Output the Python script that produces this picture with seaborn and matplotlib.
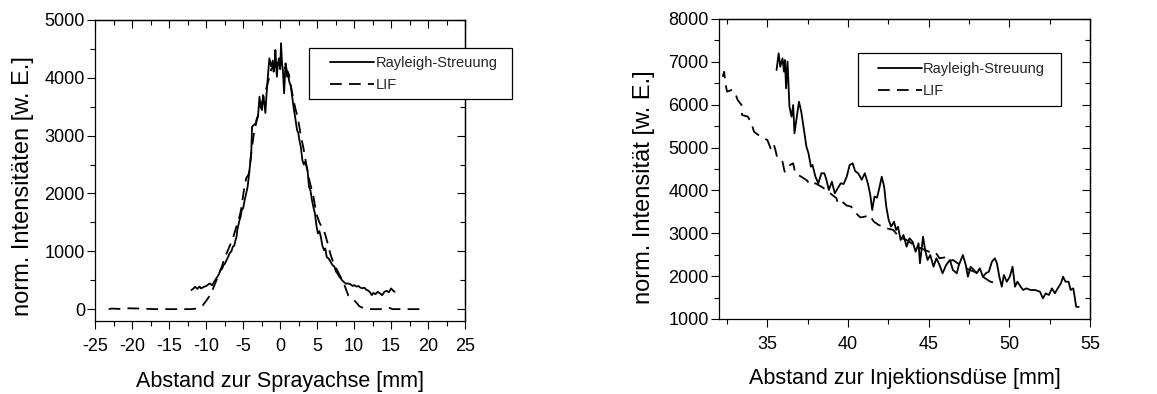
import matplotlib
matplotlib.use('Agg')
import matplotlib.pyplot as plt
import seaborn as sns
import pandas as pd
from matplotlib.ticker import MultipleLocator
from matplotlib.patches import Rectangle
from matplotlib.lines import Line2D

# ---------------- data: left panel (Abstand zur Sprayachse) ----------------
ray_left_x = [-12.0, -11.7, -11.5, -11.2, -10.9, -10.7, -10.3, -10.0, -9.7, -9.5, -9.2, -8.9,
              -8.5, -8.3, -8.07, -7.85, -7.67, -7.45, -7.25, -7.05, -6.85, -6.6, -6.4, -6.2,
              -6.04, -5.9, -5.8, -5.65, -5.5, -5.35, -5.2, -5.0, -4.8, -4.6, -4.4, -4.2, -4.0,
              -3.9, -3.8, -3.6, -3.3, -3.15, -3.0, -2.8, -2.65, -2.47, -2.3, -2.2, -2.0, -1.85,
              -1.7, -1.46, -1.3, -1.2, -1.0, -0.89, -0.75, -0.65, -0.45, -0.3, -0.16, 0.0, 0.12,
              0.25, 0.37, 0.53, 0.73, 0.85, 0.97, 1.06, 1.2, 1.46, 1.6, 1.87, 2.05, 2.28, 2.45,
              2.6, 2.8, 3.0, 3.2, 3.4, 3.7, 3.9, 4.1, 4.3, 4.5, 4.7, 4.9, 5.1, 5.3, 5.5, 5.7,
              5.93, 6.1, 6.3, 6.5, 6.7, 6.9, 7.1, 7.35, 7.55, 7.75, 8.0, 8.2, 8.36, 8.6, 8.9,
              9.2, 9.5, 9.8, 10.0, 10.3, 10.6, 10.8, 11.1, 11.4, 11.6, 11.9, 12.1, 12.4, 12.6,
              12.9, 13.2, 13.5, 13.8, 14.1, 14.4, 14.7, 15.0, 15.3, 15.5]
ray_left_y = [329, 360, 387, 350, 390, 358, 387, 400, 430, 444, 410, 480,
              559, 600, 675, 700, 761, 790, 848, 900, 963, 1000, 1079, 1100,
              1194, 1250, 1367, 1450, 1540, 1600, 1713, 1750, 1886, 2000, 2116, 2347, 2578,
              2750, 3154, 3180, 3213, 3300, 3327, 3673, 3500, 3443, 3700, 3616, 3391, 3700,
              3962, 4337, 4250, 4192, 4300, 4105, 4200, 4481, 4019, 4250, 4337, 4150, 4596,
              4250, 4135, 3732, 4250, 4150, 4019, 4100, 3950, 3846, 3700, 3443, 3300, 3097, 3050,
              2924, 2800, 2578, 2500, 2550, 2405, 2116, 2050, 1886, 1760, 1656, 1450, 1310, 1350, 1252, 1100,
              1021, 1050, 900, 880, 848, 800, 760, 732, 650, 617, 560, 530, 502, 470, 440,
              444, 430, 400, 416, 390, 400, 375, 360, 370, 340, 320, 300, 242, 280,
              260, 300, 270, 242, 300, 317, 290, 358, 317, 300]

lif_left_x = [-23.2, -22.8, -21.0, -20.5, -19.0, -17.0, -15.0, -13.0, -12.0, -11.3, -10.9, -10.5,
              -10.1, -9.7, -9.3, -9.0, -8.7, -8.3, -7.9, -7.6, -7.25, -6.8, -6.4, -6.1, -5.8,
              -5.5, -5.3, -4.9, -4.6, -4.2, -4.0, -3.6, -3.2, -2.8, -2.4, -2.0, -1.6, -1.2, -0.8,
              -0.4, 0.0, 0.4, 0.8, 1.2, 1.6, 2.0, 2.4, 2.8, 3.2, 3.6, 4.0, 4.5, 4.9, 5.3, 5.7,
              6.05, 6.4, 6.8, 7.2, 7.8, 8.2, 8.6, 9.2, 9.6, 10.0, 10.4, 10.7, 11.3, 12.0, 14.0,
              14.8, 15.2, 17.0, 19.6]
lif_left_y = [0, 10, 0, 15, 10, 0, 0, 0, 0, 10, 40, 60,
              127, 200, 271, 380, 473, 600, 732, 850, 963, 1100, 1223, 1350, 1483,
              1600, 1713, 2059, 2261, 2347, 2600, 3000, 3250, 3450, 3600, 3750, 3950, 4150, 4200,
              4250, 4250, 4200, 4150, 4050, 3750, 3500, 3300, 3000, 2750, 2450, 2200, 1943, 1650, 1500, 1400,
              1309, 1150, 950, 800, 650, 550, 450, 240, 200, 155, 100, 50, 17, 0, 0,
              20, 0, 0, 0]

# ---------------- data: right panel (Abstand zur Injektionsdüse) ----------------
ray_right_x = [35.57, 35.7, 35.8, 35.94, 36.03, 36.09, 36.16, 36.25, 36.37, 36.5, 36.6, 36.68,
               36.81, 36.96, 37.1, 37.24, 37.42, 37.55, 37.7, 37.8, 37.98, 38.16, 38.35, 38.53,
               38.66, 38.81, 39.0, 39.18, 39.36, 39.55, 39.73, 39.92, 40.1, 40.29, 40.44, 40.63,
               40.85, 41.04, 41.23, 41.38, 41.5, 41.64, 41.8, 41.96, 42.09, 42.24, 42.37, 42.52,
               42.67, 42.85, 42.98, 43.1, 43.26, 43.44, 43.63, 43.81, 44.0, 44.19, 44.37, 44.46,
               44.65, 44.78, 44.93, 45.1, 45.3, 45.48, 45.67, 45.86, 46.08, 46.32, 46.5, 46.74,
               46.87, 47.12, 47.3, 47.43, 47.6, 47.8, 47.98, 48.17, 48.36, 48.54, 48.73, 48.92,
               49.1, 49.23, 49.38, 49.53, 49.66, 49.84, 50.03, 50.2, 50.35, 50.5, 50.7, 50.86,
               51.05, 51.32, 51.6, 51.9, 52.08, 52.26, 52.45, 52.64, 52.82, 53.0, 53.2, 53.33,
               53.48, 53.67, 53.8, 53.96, 54.05, 54.14, 54.3]
ray_right_y = [6809, 7199, 6886, 7082, 6770, 7043, 6382, 7005, 5953, 5720, 5993, 5332,
               5681, 6070, 5837, 5487, 5020, 4866, 4554, 4593, 4320, 4166, 4400, 4400,
               4250, 4010, 4203, 3932, 4050, 4166, 4150, 4320, 4593, 4632, 4450, 4400,
               4250, 4400, 4166, 3893, 3543, 3855, 3830, 4087, 4320, 4087, 3621, 3310,
               3154, 3271, 3076, 3150, 2843, 2960, 2687, 2882, 2805, 2570, 2766, 2300,
               2920, 2610, 2377, 2493, 2220, 2416, 2260, 2066, 2260, 2377, 2143, 2066,
               2260, 2493, 2260, 1987, 2220, 2143, 2066, 2182, 1987, 2066, 2104, 2337,
               2416, 2300, 1987, 1753, 2026, 1870, 1987, 2220, 1753, 1870, 1753, 1676,
               1715, 1676, 1676, 1637, 1482, 1598, 1560, 1715, 1598, 1715, 1833, 1987,
               1870, 1870, 1676, 1715, 1521, 1287, 1280]

lif_right_x = [32.23, 32.32, 32.4, 32.5, 32.78, 32.97, 33.16, 33.4, 33.43, 33.8, 34.05, 34.17,
               34.3, 34.6, 35.0, 35.2, 35.38, 35.5, 35.62, 35.94, 36.07, 36.31, 36.4, 36.6,
               36.73, 37.1, 37.42, 37.7, 37.98, 38.35, 38.7, 39.0, 39.28, 39.37, 39.6, 39.9,
               40.2, 40.3, 40.76, 41.04, 41.32, 41.6, 41.9, 42.2, 42.4, 42.8, 43.2, 43.6, 44.0,
               44.5, 45.02, 45.4, 45.67, 46.04, 46.2, 46.5, 47.0, 47.5, 48.0, 48.5, 48.82,
               49.19, 49.4]
lif_right_y = [6653, 6770, 6499, 6304, 6343, 6304, 6110, 5993, 5760, 5720, 5526, 5370,
               5332, 5253, 5176, 4983, 5099, 4943, 4749, 4670, 4437, 4516, 4593, 4632,
               4400, 4320, 4243, 4126, 4166, 4087, 4000, 3900, 3820, 3700, 3750, 3650,
               3621, 3543, 3370, 3387, 3426, 3271, 3193, 3154, 3116, 3077, 2900, 2850, 2750,
               2650, 2570, 2570, 2416, 2440, 2337, 2377, 2250, 2150, 2080, 1950, 1871,
               1833, 1850]

labels = ["Rayleigh-Streuung", "LIF"]
xlabels = ["Abstand zur Sprayachse [mm]", "Abstand zur Injektionsdüse [mm]"]
ylabels = ["norm. Intensitäten [w. E.]", "norm. Intensität [w. E.]"]

# ---------------- style ----------------
sns.set_style('white')
plt.rcParams['font.family'] = ['Liberation Sans', 'DejaVu Sans']
plt.rcParams['axes.unicode_minus'] = False
plt.rcParams['axes.linewidth'] = 0.9
plt.rcParams['axes.edgecolor'] = 'black'

fig = plt.figure(figsize=(11.57, 3.94), dpi=100)
ax1 = fig.add_axes([0.0824, 0.1853, 0.3195, 0.7640])
ax2 = fig.add_axes([0.6214, 0.1904, 0.3207, 0.7614])

LW = 1.3
DASH = (6.5, 4)


def draw(ax, rx, ry, lx, ly):
    sns.lineplot(x=rx, y=ry, ax=ax, color='black', lw=LW, sort=False, estimator=None)
    sns.lineplot(x=lx, y=ly, ax=ax, color='black', lw=LW, sort=False, estimator=None)
    ax.lines[-1].set_dashes(DASH)


def style(ax, xmaj, xmin, ymaj, ymin):
    for axis, maj, mnr in ((ax.xaxis, xmaj, xmin), (ax.yaxis, ymaj, ymin)):
        axis.set_major_locator(MultipleLocator(maj))
        axis.set_minor_locator(MultipleLocator(mnr))
    ax.tick_params(which='both', direction='out', top=False, right=False,
                   bottom=True, left=True, width=0.8, color='black',
                   labelsize=13, labelcolor='black')
    ax.tick_params(which='major', length=6)
    ax.tick_params(which='minor', length=3.3)
    ax.tick_params(axis='x', which='major', pad=6)
    ax.tick_params(axis='y', which='major', pad=1.5)
    for s in ax.spines.values():
        s.set_visible(True)
        s.set_color('black')
        s.set_linewidth(0.9)
    sx = ax.secondary_xaxis('top')
    sx.xaxis.set_major_locator(MultipleLocator(xmaj))
    sx.xaxis.set_minor_locator(MultipleLocator(xmin))
    sx.tick_params(which='both', direction='in', labeltop=False, width=0.8, color='black')
    sx.tick_params(which='major', length=6)
    sx.tick_params(which='minor', length=3.3)
    sx.spines['top'].set_linewidth(0.9)
    sy = ax.secondary_yaxis('right')
    sy.yaxis.set_major_locator(MultipleLocator(ymaj))
    sy.yaxis.set_minor_locator(MultipleLocator(ymin))
    sy.tick_params(which='both', direction='in', labelright=False, width=0.8, color='black')
    sy.tick_params(which='major', length=6)
    sy.tick_params(which='minor', length=3.3)
    sy.spines['right'].set_linewidth(0.9)


def legend(ax, box, anchor):
    r = Rectangle((box[0], box[1]), box[2] - box[0], box[3] - box[1], transform=ax.transAxes,
                  facecolor='white', edgecolor='black', lw=0.9, clip_on=False, zorder=10)
    ax.add_patch(r)
    handles = [Line2D([], [], color='black', lw=LW),
               Line2D([], [], color='black', lw=LW, dashes=DASH)]
    leg = ax.legend(handles, labels, loc='center left', bbox_to_anchor=anchor,
                    frameon=False, fontsize=10.5, handlelength=3.0, handletextpad=0.1,
                    labelspacing=0.55, borderpad=0, borderaxespad=0)
    leg.set_zorder(11)


draw(ax1, ray_left_x, ray_left_y, lif_left_x, lif_left_y)
draw(ax2, ray_right_x, ray_right_y, lif_right_x, lif_right_y)

ax1.set_xlim(-25, 25)
ax1.set_ylim(-205, 5000)
ax2.set_xlim(32, 55)
ax2.set_ylim(1000, 8000)

style(ax1, 5, 2.5, 1000, 500)
style(ax2, 5, 2.5, 1000, 500)

for ax, xl, yl, ylx, yly in ((ax1, xlabels[0], ylabels[0], -0.166, 0.448),
                             (ax2, xlabels[1], ylabels[1], -0.1725, 0.44)):
    ax.set_xlabel(xl, fontsize=15.5, color='black')
    ax.set_ylabel(yl, fontsize=17, color='black')
    ax.xaxis.set_label_coords(0.5, -0.165)
    ax.xaxis.label.set_va('top')
    ax.yaxis.set_label_coords(ylx, yly)

legend(ax1, (0.579, 0.736, 1.128, 0.906), (0.635, 0.8195))
legend(ax2, (0.375, 0.71, 0.922, 0.887), (0.428, 0.7975))

fig.savefig('out.png', dpi=100, facecolor='white')
